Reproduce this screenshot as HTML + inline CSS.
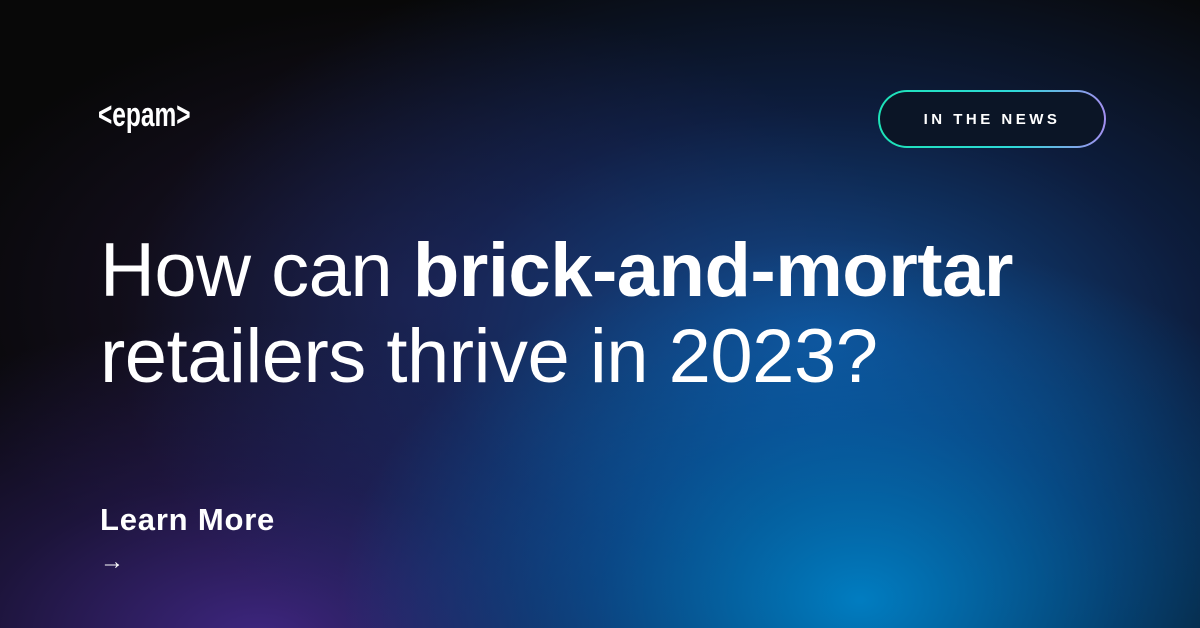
<!DOCTYPE html>
<html><head><meta charset="utf-8"><style>
html,body{margin:0;padding:0}
body{width:1200px;height:628px;overflow:hidden;position:relative;font-family:"Liberation Sans",sans-serif;color:#fff;
background:
radial-gradient(ellipse 520px 360px at 860px 600px, rgba(0,130,200,0.95), rgba(0,110,190,0.5) 50%, rgba(0,80,160,0) 100%),
radial-gradient(ellipse 700px 420px at 820px 340px, rgba(20,90,170,0.85), rgba(20,60,140,0.4) 55%, rgba(0,0,0,0) 100%),
radial-gradient(ellipse 560px 320px at 260px 640px, rgba(65,40,135,0.95), rgba(45,30,100,0.55) 50%, rgba(0,0,0,0) 100%),
radial-gradient(ellipse 500px 300px at 420px 300px, rgba(45,30,80,0.6), rgba(0,0,0,0) 100%),
#080808;}
.logo{position:absolute;left:98px;top:96px;font-size:34px;font-weight:bold;transform:scaleX(0.72);transform-origin:left}
.btn{position:absolute;left:878px;top:90px;width:228px;height:58px;border-radius:29px;box-sizing:border-box;padding:2px;background:linear-gradient(90deg,#1de3b8,#2fd9d8 60%,#a38ff0);}
.btn div{width:100%;height:100%;border-radius:27px;background:#0b1526;display:flex;align-items:center;justify-content:center;font-size:15px;font-weight:bold;letter-spacing:3.5px}
h1{position:absolute;left:100px;top:228px;margin:0;font-weight:normal;font-size:76px;line-height:86px;letter-spacing:-0.5px}
h1 b{font-weight:bold}
.lm{position:absolute;left:100px;top:502px;font-size:31px;font-weight:bold;letter-spacing:0.8px}
.arrow{position:absolute;left:100px;top:548px;font-size:24px}
</style></head><body>
<div class="logo">&lt;epam&gt;</div>
<div class="btn"><div>IN THE NEWS</div></div>
<h1>How can <b>brick-and-mortar</b><br>retailers thrive in 2023?</h1>
<div class="lm">Learn More</div>
<div class="arrow">→</div>
</body></html>
